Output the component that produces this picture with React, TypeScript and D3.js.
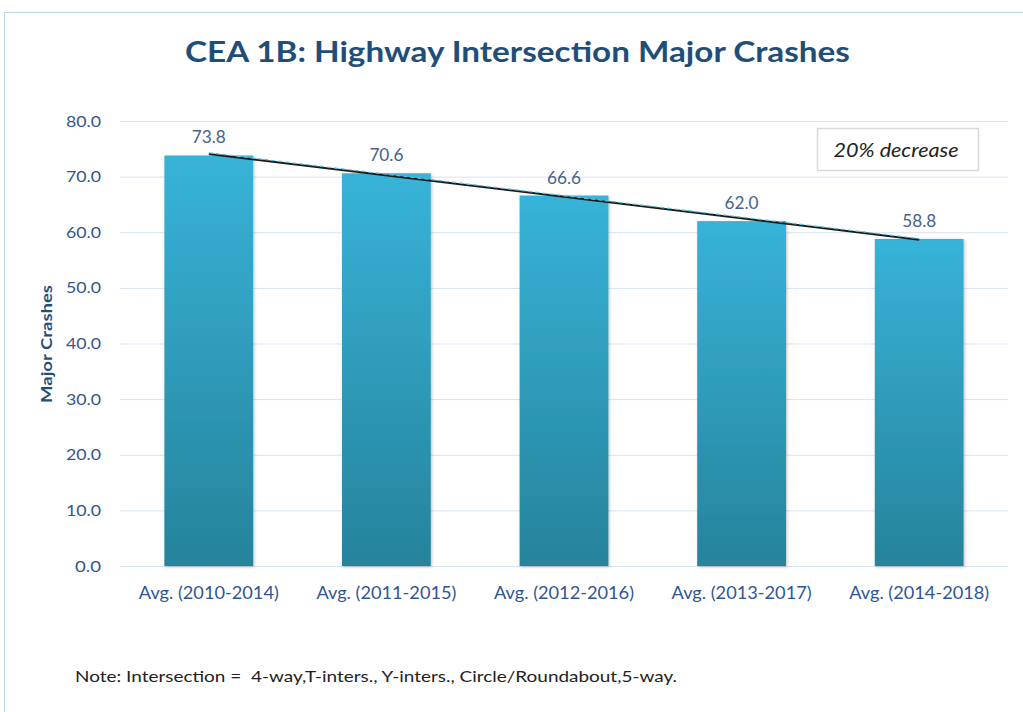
import React, { useEffect, useRef } from "react";
import * as d3 from "d3";

const categories = [
  "Avg. (2010-2014)",
  "Avg. (2011-2015)",
  "Avg. (2012-2016)",
  "Avg. (2013-2017)",
  "Avg. (2014-2018)",
];
const values = [73.8, 70.6, 66.6, 62.0, 58.8];
const yTicks = [0, 10, 20, 30, 40, 50, 60, 70, 80];
const titleText = "CEA 1B: Highway Intersection Major Crashes";
const yLabel = "Major Crashes";
const noteText = "Note: Intersection =  4-way,T-inters., Y-inters., Circle/Roundabout,5-way.";
const boxText = "20% decrease";

const W = 1023;
const H = 712;
const FONT = "Lato, 'Open Sans', sans-serif";

export default function App() {
  const ref = useRef<SVGSVGElement | null>(null);

  useEffect(() => {
    const svg = d3.select(ref.current);
    svg.selectAll("*").remove();

    const left = 120, right = 1008, top = 121, bottom = 566;
    const x = d3.scaleBand<string>().domain(categories).range([left, right]).paddingInner(0.5).paddingOuter(0.25);
    const y = d3.scaleLinear().domain([0, 80]).range([bottom, top]);

    const defs = svg.append("defs");
    const grad = defs.append("linearGradient").attr("id", "barGrad").attr("x1", 0).attr("y1", 0).attr("x2", 0).attr("y2", 1);
    grad.append("stop").attr("offset", "0%").attr("stop-color", "#37B3D8");
    grad.append("stop").attr("offset", "100%").attr("stop-color", "#26839B");
    const f = defs.append("filter").attr("id", "shadow").attr("x", "-10%").attr("y", "-10%").attr("width", "130%").attr("height", "130%");
    f.append("feDropShadow").attr("dx", 1).attr("dy", 1).attr("stdDeviation", 1.5).attr("flood-color", "#000").attr("flood-opacity", 0.25);

    // frame
    svg.append("rect").attr("x", 4.5).attr("y", 12.5).attr("width", 1100).attr("height", 900)
      .attr("fill", "#fff").attr("stroke", "#BDD7EE").attr("stroke-width", 1);

    // title
    svg.append("text").attr("x", 517.5).attr("y", 62).attr("text-anchor", "middle")
      .attr("font-family", FONT).attr("font-weight", 700).attr("font-size", 28)
      .attr("textLength", 665).attr("lengthAdjust", "spacingAndGlyphs")
      .attr("fill", "#1F4E79").text(titleText);

    // gridlines
    svg.append("g").selectAll("line").data(yTicks).join("line")
      .attr("x1", left).attr("x2", right)
      .attr("y1", (d) => y(d) + 0.5).attr("y2", (d) => y(d) + 0.5)
      .attr("stroke", "#D6E3F3").attr("stroke-width", 1);

    // y tick labels
    svg.append("g").selectAll("text").data(yTicks).join("text")
      .attr("x", 101).attr("y", (d) => y(d) + 5.5).attr("text-anchor", "end")
      .attr("font-family", FONT).attr("font-size", 15.5).attr("fill", "#34568C")
      .attr("textLength", (d) => (d3.format(".1f")(d).length === 4 ? 35 : 26))
      .attr("lengthAdjust", "spacingAndGlyphs")
      .text((d) => d3.format(".1f")(d));

    // y label
    svg.append("text").attr("transform", `translate(52, 344) rotate(-90)`)
      .attr("text-anchor", "middle").attr("font-family", FONT).attr("font-weight", 700)
      .attr("font-size", 15).attr("textLength", 118).attr("lengthAdjust", "spacingAndGlyphs")
      .attr("fill", "#1F4E79").text(yLabel);

    // bars
    svg.append("g").selectAll("rect").data(values).join("rect")
      .attr("x", (_, i) => x(categories[i])!).attr("width", x.bandwidth())
      .attr("y", (d) => y(d)).attr("height", (d) => bottom - y(d))
      .attr("fill", "url(#barGrad)").attr("filter", "url(#shadow)");

    // value labels
    svg.append("g").selectAll("text").data(values).join("text")
      .attr("x", (_, i) => x(categories[i])! + x.bandwidth() / 2)
      .attr("y", (d) => y(d) - 12).attr("text-anchor", "middle")
      .attr("font-family", FONT).attr("font-size", 16.5).attr("fill", "#44618F")
      .attr("textLength", 34).attr("lengthAdjust", "spacingAndGlyphs")
      .text((d) => d3.format(".1f")(d));

    // x labels
    svg.append("g").selectAll("text").data(categories).join("text")
      .attr("x", (d) => x(d)! + x.bandwidth() / 2).attr("y", 599).attr("text-anchor", "middle")
      .attr("font-family", FONT).attr("font-size", 16.5).attr("fill", "#2F5597")
      .attr("textLength", 140).attr("lengthAdjust", "spacingAndGlyphs")
      .text((d) => d);

    // linear trend line (least squares)
    const xs = values.map((_, i) => i + 1);
    const mx = d3.mean(xs)!;
    const my = d3.mean(values)!;
    const slope = d3.sum(xs.map((xi, i) => (xi - mx) * (values[i] - my))) / d3.sum(xs.map((xi) => (xi - mx) ** 2));
    const intercept = my - slope * mx;
    const trend = xs.map((xi, i) => [x(categories[i])! + x.bandwidth() / 2, y(intercept + slope * xi)] as [number, number]);
    const lineGen = d3.line();
    const pts = [trend[0], trend[trend.length - 1]];
    svg.append("path").attr("d", lineGen(pts)!).attr("stroke", "#1a1a1a").attr("stroke-width", 2).attr("fill", "none");
    svg.append("path").attr("d", lineGen(pts.map(([a, b]) => [a, b - 1.2] as [number, number]))!)
      .attr("stroke", "#5BC0DE").attr("stroke-width", 1.2).attr("stroke-dasharray", "4,3").attr("fill", "none");

    // annotation box
    svg.append("rect").attr("x", 817.5).attr("y", 128.5).attr("width", 161).attr("height", 42)
      .attr("fill", "#fff").attr("stroke", "#D9D9D9").attr("stroke-width", 1.5);
    svg.append("text").attr("x", 896).attr("y", 157).attr("text-anchor", "middle")
      .attr("font-family", FONT).attr("font-style", "italic").attr("font-size", 19)
      .attr("textLength", 125).attr("lengthAdjust", "spacingAndGlyphs")
      .attr("fill", "#222").text(boxText);

    // note
    svg.append("text").attr("x", 75).attr("y", 682).attr("xml:space", "preserve")
      .style("white-space", "pre")
      .attr("font-family", FONT).attr("font-size", 16)
      .attr("textLength", 602).attr("lengthAdjust", "spacingAndGlyphs")
      .attr("fill", "#222").text(noteText);
  }, []);

  return (
    <div style={{ position: "fixed", left: 0, top: 0 }}>
      <svg ref={ref} width={W} height={H} style={{ display: "block" }} />
    </div>
  );
}
